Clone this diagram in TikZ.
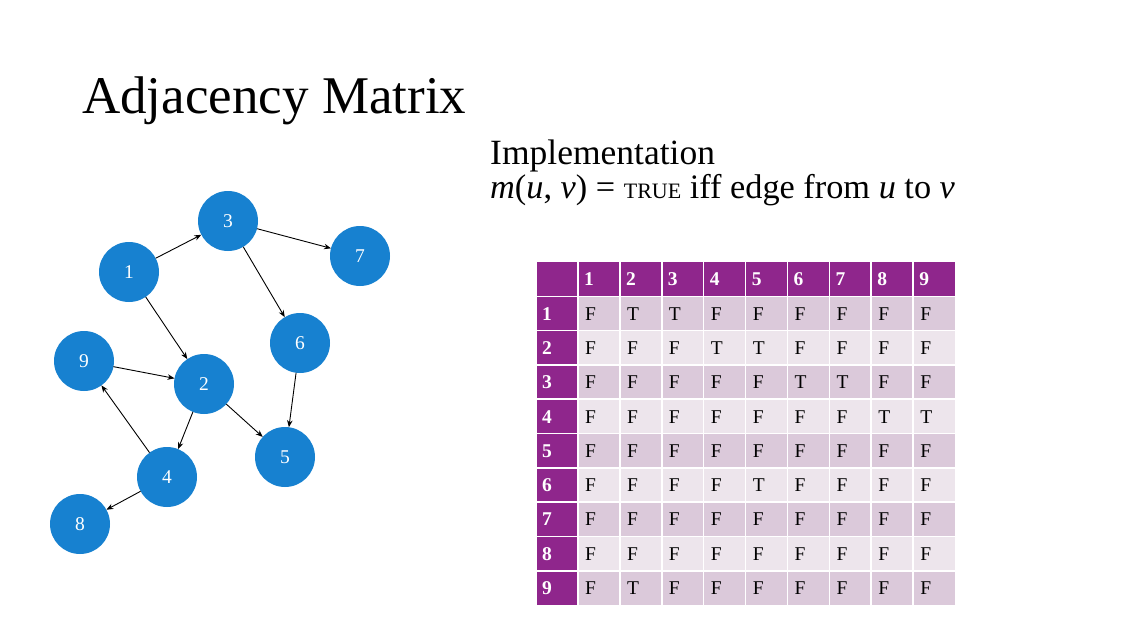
\documentclass[tikz,border=0pt]{standalone}
\usepackage{fontspec}
\setmainfont{Liberation Serif}
\usetikzlibrary{arrows.meta}

\definecolor{nodeblue}{RGB}{23,129,208}
\definecolor{hdrpurple}{RGB}{143,38,140}
\definecolor{rowdark}{RGB}{219,201,218}
\definecolor{rowlight}{RGB}{237,229,236}

\begin{document}
\begin{tikzpicture}[x=1pt,y=-1pt,
  vertex/.style={circle,fill=nodeblue,draw=none,minimum size=60pt,inner sep=0pt,
    outer sep=0pt,text=white,font=\fontsize{19.5}{19.5}\selectfont},
  edge/.style={-{Stealth[length=7pt,width=5.5pt]},line width=0.9pt,black},
  textline/.style={anchor=base west,inner sep=0pt},
  hdrtext/.style={anchor=west,inner sep=0pt,text=white,font=\fontsize{19.5}{20}\selectfont\bfseries},
  celltext/.style={anchor=west,inner sep=0pt,text=black,font=\fontsize{19.5}{20}\selectfont},
  gridline/.style={white,line width=1.6pt}]
\useasboundingbox (0,0) rectangle (1125,627);

% headings
\node[textline,font=\fontsize{53}{60}\selectfont] (title) at (82,113) {Adjacency Matrix};
\node[textline,font=\fontsize{35.5}{40}\selectfont] (impl) at (490,164) {Implementation};
\node[textline,font=\fontsize{34.3}{40}\selectfont] (defn) at (490,198)
  {\textit{m}(\textit{u}, \textit{v}) = {\fontsize{22}{22}\selectfont TRUE} iff edge from \textit{u} to \textit{v}};

% graph
\node[vertex] (v1) at (129,272) {1};
\node[vertex] (v2) at (204,384) {2};
\node[vertex] (v3) at (228,221) {3};
\node[vertex] (v4) at (167,477) {4};
\node[vertex] (v5) at (285,457) {5};
\node[vertex] (v6) at (300,343) {6};
\node[vertex] (v7) at (360,256) {7};
\node[vertex] (v8) at (80,524) {8};
\node[vertex] (v9) at (84,361) {9};

\draw[edge] (v1) -- (v3);
\draw[edge] (v1) -- (v2);
\draw[edge] (v3) -- (v7);
\draw[edge] (v3) -- (v6);
\draw[edge] (v9) -- (v2);
\draw[edge] (v2) -- (v4);
\draw[edge] (v2) -- (v5);
\draw[edge] (v6) -- (v5);
\draw[edge] (v4) -- (v9);
\draw[edge] (v4) -- (v8);

% matrix body: banded rows
\foreach \i in {1,...,9}{
  \pgfmathsetmacro\ya{262+\i*34.3}
  \pgfmathsetmacro\yb{262+(\i+1)*34.3}
  \ifodd\i \def\rc{rowdark}\else\def\rc{rowlight}\fi
  \fill[\rc] (578,\ya) rectangle (955,\yb);
}
% header row and header column
\fill[hdrpurple] (537,262) rectangle (955,296.3);
\fill[hdrpurple] (537,262) rectangle (578,605);

% white cell borders
\foreach \k in {0,...,8}{
  \pgfmathsetmacro\xx{578+\k*41.89}
  \draw[gridline] (\xx,262) -- (\xx,605);
}
\foreach \i in {1,...,9}{
  \pgfmathsetmacro\yy{262+\i*34.3}
  \draw[gridline] (537,\yy) -- (955,\yy);
}

% column and row labels
\foreach \j in {1,...,9}{
  \pgfmathsetmacro\xx{578+(\j-1)*41.89+6}
  \node[hdrtext] (col\j) at (\xx,279.5) {\j};
  \pgfmathsetmacro\yy{262+\j*34.3+17.5}
  \node[hdrtext] (row\j) at (542,\yy) {\j};
}

% entries
\foreach \i/\row in {1/{F,T,T,F,F,F,F,F,F},2/{F,F,F,T,T,F,F,F,F},3/{F,F,F,F,F,T,T,F,F},
                     4/{F,F,F,F,F,F,F,T,T},5/{F,F,F,F,F,F,F,F,F},6/{F,F,F,F,T,F,F,F,F},
                     7/{F,F,F,F,F,F,F,F,F},8/{F,F,F,F,F,F,F,F,F},9/{F,T,F,F,F,F,F,F,F}}{
  \pgfmathsetmacro\yy{262+\i*34.3+17.5}
  \foreach \v [count=\j] in \row {
    \pgfmathsetmacro\xx{578+(\j-1)*41.89+7}
    \node[celltext] (m-\i-\j) at (\xx,\yy) {\v};
  }
}
\end{tikzpicture}
\end{document}
